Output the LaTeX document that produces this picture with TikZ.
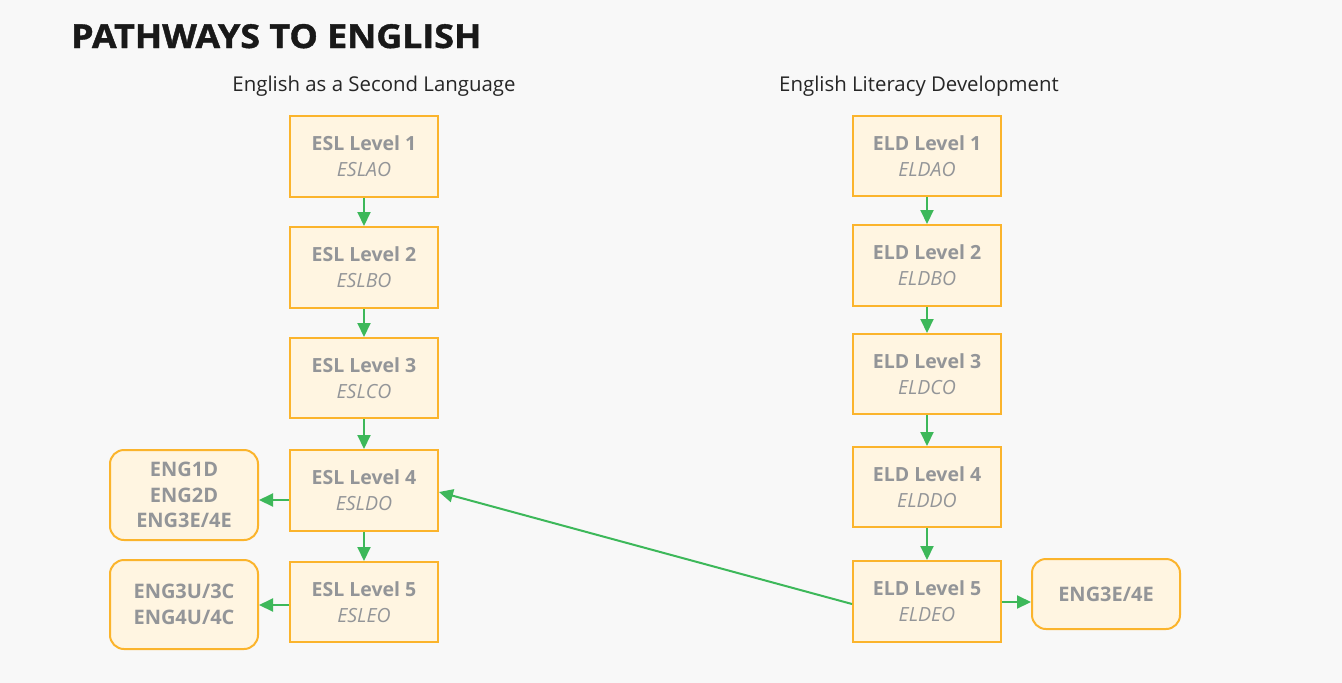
\documentclass[tikz,border=0pt]{standalone}
\usepackage{fontspec}
\setmainfont{Open Sans}
\newfontfamily\titlefont[FakeBold=1.2]{Open Sans Bold}
\usetikzlibrary{arrows.meta}
\definecolor{bg}{HTML}{F8F8F8}
\definecolor{boxfill}{HTML}{FFF5E1}
\definecolor{boxline}{HTML}{FBB42C}
\definecolor{txt}{HTML}{939598}
\definecolor{arr}{HTML}{3DB85A}
\tikzset{
  lvl/.style={draw=boxline, fill=boxfill, line width=2pt, minimum width=148pt, minimum height=80pt, inner sep=0pt, align=center, text=txt, font=\fontsize{19.5}{26}\selectfont},
  eng/.style={draw=boxline, fill=boxfill, line width=2pt, rounded corners=14pt, minimum width=148pt, inner sep=0pt, align=center, text=txt, font=\fontsize{20}{25.5}\selectfont\bfseries},
  conn/.style={draw=arr, line width=2pt, -{Triangle[length=14pt,width=13pt]}},
  hdr/.style={font=\fontsize{20.4}{24}\selectfont, text=black!85}
}
\newcommand{\lv}[2]{\textbf{#1}\\[0pt]\textit{#2}}
\begin{document}
\begin{tikzpicture}[x=1pt,y=-1pt]
\useasboundingbox[fill=bg] (0,0) rectangle (1342,683);
\node[anchor=base west, font=\fontsize{33}{36}\titlefont, text=black!90, inner sep=0pt] (title) at (71,48) {\scalebox{1.085}[1]{PATHWAYS TO ENGLISH}};
\node[hdr] (h1) at (374,86) {English as a Second Language};
\node[hdr] (h2) at (919,86) {English Literacy Development};
% ESL
\node[lvl, minimum height=81pt] (s1) at (364,156.5) {\lv{ESL Level 1}{ESLAO}};
\node[lvl, minimum height=81pt] (s2) at (364,267.5) {\lv{ESL Level 2}{ESLBO}};
\node[lvl] (s3) at (364,378) {\lv{ESL Level 3}{ESLCO}};
\node[lvl, minimum height=81pt] (s4) at (364,490.5) {\lv{ESL Level 4}{ESLDO}};
\node[lvl] (s5) at (364,602) {\lv{ESL Level 5}{ESLEO}};
% ELD
\node[lvl] (d1) at (927,156) {\lv{ELD Level 1}{ELDAO}};
\node[lvl, minimum height=81pt] (d2) at (927,265.5) {\lv{ELD Level 2}{ELDBO}};
\node[lvl] (d3) at (927,374) {\lv{ELD Level 3}{ELDCO}};
\node[lvl] (d4) at (927,487) {\lv{ELD Level 4}{ELDDO}};
\node[lvl, minimum height=81pt] (d5) at (927,601.5) {\lv{ELD Level 5}{ELDEO}};
% outcomes
\node[eng, minimum height=90pt] (e1) at (184,495) {ENG1D\\ENG2D\\ENG3E/4E};
\node[eng, minimum height=89pt] (e2) at (184,604.5) {ENG3U/3C\\ENG4U/4C};
\node[eng, minimum height=70pt] (e3) at (1106,594) {ENG3E/4E};
% connectors
\foreach \a/\b in {s1/s2,s2/s3,s3/s4,s4/s5,d1/d2,d2/d3,d3/d4,d4/d5}
  \draw[conn] (\a.south) -- (\b.north);
\draw[conn] (s4.west |- 0,500) -- (e1.east |- 0,500);
\draw[conn] (s5.west |- 0,605) -- (e2.east |- 0,605);
\draw[conn] (d5.east |- 0,602) -- (e3.west |- 0,602);
\draw[conn] (d5.west |- 0,604) -- (s4.east |- 0,492);
\end{tikzpicture}
\end{document}
